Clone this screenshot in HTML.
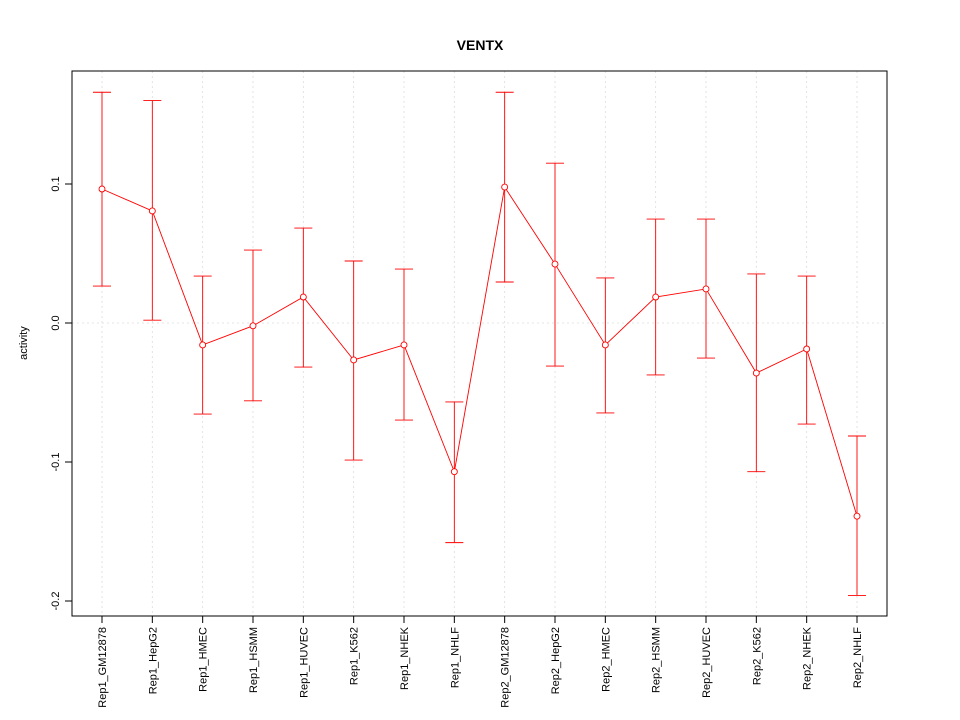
<!DOCTYPE html>
<html><head><meta charset="utf-8"><style>body{margin:0;background:#fff}svg{display:block;font-family:"Liberation Sans",sans-serif}</style></head>
<body>
<svg id="chart" width="960" height="720" xmlns="http://www.w3.org/2000/svg">
<rect width="960" height="720" fill="#fff"/>
<text x="480" y="50" text-anchor="middle" font-size="14" font-weight="bold">VENTX</text>
<text x="0" y="0" transform="translate(27,343) rotate(-90)" text-anchor="middle" font-size="11">activity</text>
<g id="grid"></g><g id="axes"></g><g id="marks"></g>
</svg>
<script>
const categories = ["Rep1_GM12878","Rep1_HepG2","Rep1_HMEC","Rep1_HSMM","Rep1_HUVEC","Rep1_K562","Rep1_NHEK","Rep1_NHLF","Rep2_GM12878","Rep2_HepG2","Rep2_HMEC","Rep2_HSMM","Rep2_HUVEC","Rep2_K562","Rep2_NHEK","Rep2_NHLF"];
const values = [0.0964,0.0806,-0.0158,-0.002,0.0187,-0.0266,-0.0158,-0.107,0.0978,0.0424,-0.0158,0.0187,0.0245,-0.036,-0.0187,-0.139];
const upper = [0.166,0.160,0.0338,0.0525,0.0683,0.0446,0.0388,-0.0568,0.166,0.115,0.0324,0.0748,0.0748,0.0353,0.0338,-0.0813];
const lower = [0.0266,0.002,-0.0655,-0.056,-0.0317,-0.0986,-0.0698,-0.158,0.0295,-0.031,-0.0647,-0.0374,-0.0252,-0.107,-0.0727,-0.196];
const yTicks = [-0.2,-0.1,0.0,0.1];
const yTickLabels = ["-0.2","-0.1","0.0","0.1"];

const NS="http://www.w3.org/2000/svg";
const L=72,R=887,T=71,B=616;
function xS(i){return 102+i*(857-102)/(categories.length-1);}
function yS(v){return 323-v*1390;}
function mk(tag,attrs,parent){const e=document.createElementNS(NS,tag);for(const k in attrs)e.setAttribute(k,attrs[k]);parent.appendChild(e);return e;}
const grid=document.getElementById('grid'),axes=document.getElementById('axes'),marks=document.getElementById('marks');
categories.forEach((c,i)=>{
  const g=mk('line',{x1:xS(i),x2:xS(i),y1:T,y2:B,stroke:'#dcdcdc','stroke-width':0.8,'stroke-dasharray':'2,3'},grid);
  
  
  const t=mk('line',{x1:xS(i),x2:xS(i),y1:B,y2:B+7,stroke:'#000'},axes);
  
  
  const lb=mk('text',{x:0,y:0,transform:`translate(${xS(i)+4},${B+11}) rotate(-90)`,'text-anchor':'end','font-size':'11'},axes);
  lb.textContent=c;
  
  
});
const zl=mk('line',{x1:L,x2:R,y1:yS(0),y2:yS(0),stroke:'#dcdcdc','stroke-width':0.8,'stroke-dasharray':'2,3'},grid);


yTicks.forEach((v,i)=>{
  const t=mk('line',{x1:L-7,x2:L,y1:yS(v),y2:yS(v),stroke:'#000'},axes);
  
  
  const lb=mk('text',{x:0,y:0,transform:`translate(${L-13},${yS(v)}) rotate(-90)`,'text-anchor':'middle','font-size':'11'},axes);
  lb.textContent=yTickLabels[i];
  
  
});
const box=mk('rect',{x:L,y:T,width:R-L,height:B-T,fill:'none',stroke:'#000'},axes);


categories.forEach((c,i)=>{
  const x=xS(i);
  const eb=mk('path',{d:`M${x},${yS(upper[i])}V${yS(lower[i])}M${x-9},${yS(upper[i])}H${x+9}M${x-9},${yS(lower[i])}H${x+9}`,stroke:'#ff0000','stroke-width':0.9,fill:'none'},marks);
  
  
});
const pl=mk('polyline',{points:values.map((v,i)=>xS(i)+','+yS(v)).join(' '),fill:'none',stroke:'#ff0000','stroke-width':0.9},marks);


values.forEach((v,i)=>{
  const p=mk('circle',{cx:xS(i),cy:yS(v),r:3,fill:'#fff',stroke:'#ff0000','stroke-width':0.9},marks);
  
  
});
</script>
</body></html>
